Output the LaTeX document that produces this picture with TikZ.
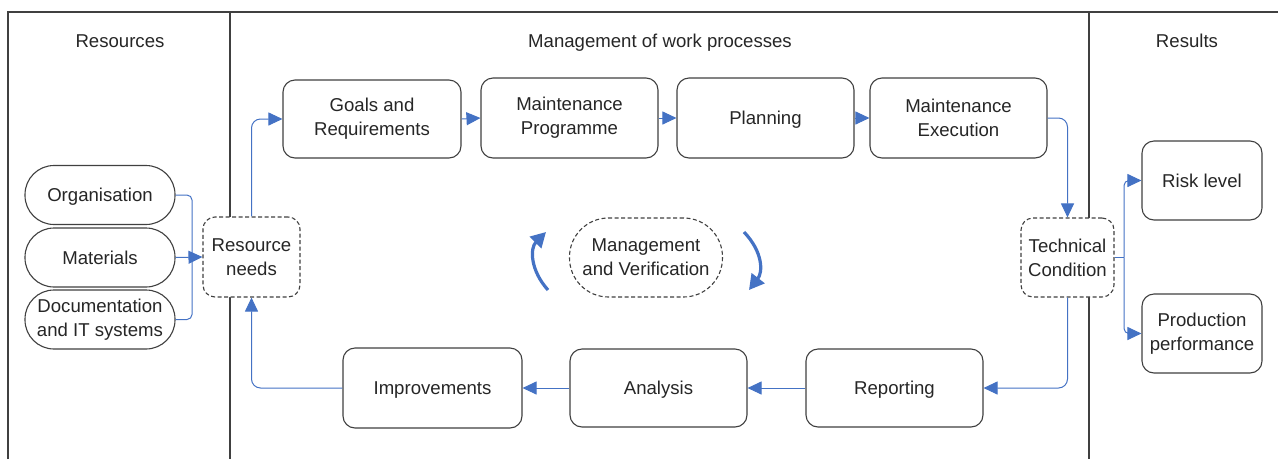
\documentclass[tikz,border=0pt]{standalone}
\usepackage{fontspec}
\setmainfont{Liberation Sans}
\usetikzlibrary{arrows.meta,calc}
\definecolor{cblue}{HTML}{4472C4}
\definecolor{cframe}{HTML}{404040}
\definecolor{ctext}{HTML}{262626}
\tikzset{
  box/.style={draw=cframe,fill=white,line width=1.1pt,rounded corners=12pt,align=center,
    text=ctext,inner sep=1pt,font=\fontsize{18.6}{24}\selectfont},
  one/.style={text depth=0pt},
  dbox/.style={box,dashed,dash pattern=on 4pt off 2.5pt},
  pill/.style={box,rounded corners=29pt,minimum width=150pt,minimum height=59pt},
  conn/.style={draw=cblue,line width=1pt,rounded corners=9pt},
  arr/.style={conn,-{Triangle[length=14pt,width=13pt]}},
  bigarr/.style={draw=cblue,line width=3.2pt,-{Triangle[length=15pt,width=16pt]}},
  title/.style={text=ctext,font=\fontsize{18.6}{24}\selectfont,text depth=0pt},
  frame/.style={draw=cframe,line width=1.2pt}
}
\begin{document}
\begin{tikzpicture}[x=1pt,y=-1pt]
\useasboundingbox (0,0) rectangle (1278,459);
% frame
\draw[frame] (8,459) -- (8,12) -- (1278,12);
\draw[frame] (230,12) -- (230,459);
\draw[frame] (1089,12) -- (1089,459);
% titles
\node[title] (tres) at (120,41) {Resources};
\node[title] (tman) at (660,41) {Management of work processes};
\node[title] (tresu) at (1187,41) {Results};
% left pills
\node[pill,one] (org) at (100,195) {Organisation};
\node[pill,one] (mat) at (100,257.5) {Materials};
\node[pill] (doc) at (100,319.5) {Documentation\\and IT systems};
% resource needs
\node[dbox,minimum width=97pt,minimum height=80pt] (rn) at (251.5,257) {Resource\\needs};
% top row
\node[box,minimum width=178pt,minimum height=78pt] (goals) at (372,119) {Goals and\\Requirements};
\node[box,minimum width=177pt,minimum height=80pt] (mp) at (569.5,118) {Maintenance\\Programme};
\node[box,one,minimum width=177pt,minimum height=80pt] (plan) at (765.5,118) {Planning};
\node[box,minimum width=177pt,minimum height=80pt] (exec) at (958.5,118) {Maintenance\\Execution};
% technical condition
\node[dbox,minimum width=93pt,minimum height=79pt] (tc) at (1067.5,257.5) {Technical\\Condition};
% management and verification
\node[dbox,rounded corners=39pt,minimum width=153pt,minimum height=79pt] (mv) at (646,257.5) {Management\\and Verification};
% bottom row
\node[box,one,minimum width=177pt,minimum height=78pt] (rep) at (894.5,388) {Reporting};
\node[box,one,minimum width=177pt,minimum height=78pt] (ana) at (658.5,388) {Analysis};
\node[box,one,minimum width=179pt,minimum height=80pt] (imp) at (432.5,388) {Improvements};
% results
\node[box,one,minimum width=120pt,minimum height=79pt] (risk) at (1202,180.5) {Risk level};
\node[box,minimum width=120pt,minimum height=79pt] (prod) at (1202,333.5) {Production\\performance};
% connectors
\coordinate (jl) at (192,257);
\draw[conn,rounded corners=5pt] (org.east) -| (jl);
\draw[conn,rounded corners=5pt] (doc.east) -| (jl);
\draw[arr] (mat.east) -- (rn.west);
\draw[arr] (rn.north) |- (goals.west);
\draw[arr] (goals.east) -- (mp.west);
\draw[arr] (mp.east) -- (plan.west);
\draw[arr] (plan.east) -- (exec.west);
\draw[arr] (exec.east) -| (tc.north);
\draw[arr] (tc.south) |- (rep.east);
\draw[arr] (rep.west) -- (ana.east);
\draw[arr] (ana.west) -- (imp.east);
\draw[arr] (imp.west) -| (rn.south);
\coordinate (jr) at (1124,257.5);
\draw[conn,rounded corners=4pt] (tc.east) -- (jr);
\draw[arr,rounded corners=5pt] (jr) |- (risk.west);
\draw[arr,rounded corners=5pt] (jr) |- (prod.west);
% circular arrows
\coordinate (la0) at (548,290);
\coordinate (la1) at (546,232);
\coordinate (ra0) at (744,232);
\coordinate (ra1) at (749,290);
\draw[bigarr] (la0) .. controls (530,270) and (530,248) .. (la1);
\draw[bigarr] (ra0) .. controls (763,252) and (763,272) .. (ra1);
\end{tikzpicture}
\end{document}
